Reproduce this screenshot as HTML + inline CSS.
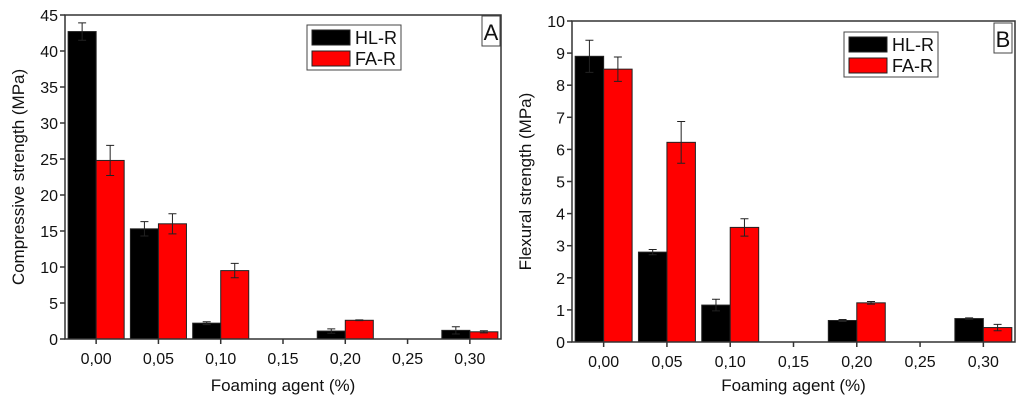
<!DOCTYPE html>
<html><head><meta charset="utf-8"><style>
body{margin:0;background:#fff;width:1024px;height:402px;overflow:hidden}
svg text{font-family:"Liberation Sans",sans-serif;fill:#111}
</style></head><body>
<svg id="s" width="1024" height="402" xmlns="http://www.w3.org/2000/svg"></svg>
<script>
const categories=["0,00","0,05","0,10","0,15","0,20","0,25","0,30"];
const hlA=[42.7,15.3,2.2,null,1.1,null,1.2];
const hlAErr=[1.2,1.0,0.2,null,0.3,null,0.5];
const faA=[24.8,16.0,9.5,null,2.6,null,1.0];
const faAErr=[2.1,1.4,1.0,null,0.05,null,0.15];
const ticksA=[0,5,10,15,20,25,30,35,40,45];
const hlB=[8.9,2.8,1.15,null,0.67,null,0.73];
const hlBErr=[0.5,0.08,0.18,null,0.03,null,0.02];
const faB=[8.5,6.22,3.57,null,1.22,null,0.45];
const faBErr=[0.38,0.65,0.27,null,0.04,null,0.1];
const ticksB=[0,1,2,3,4,5,6,7,8,9,10];
const NS="http://www.w3.org/2000/svg";
const svg=document.getElementById('s');
function mk(tag,attrs,parent,txt){const e=document.createElementNS(NS,tag);for(const k in attrs)e.setAttribute(k,attrs[k]);if(txt!==undefined)e.textContent=txt;(parent||svg).appendChild(e);return e;}
function panel(o){
  const g=mk('g',{});
  
  
  const xs=i=>o.L+(i+0.5)/7*(o.R-o.L);
  const ys=v=>o.B-v/o.max*(o.B-o.T);
  const bw=(o.R-o.L)/7*0.45;
  function bars(vals,errs,color,off,nm){
    vals.forEach((v,i)=>{if(v==null)return;
      const x=xs(i)+off*bw;
      const r=mk('rect',{x:x,y:ys(v),width:bw,height:o.B-ys(v),fill:color,stroke:'#222','stroke-width':1},g);
      
      
      const e=errs[i];const cx=x+bw/2;
      const eb=mk('path',{d:`M${cx},${ys(v+e)}V${ys(v-e)}M${cx-4},${ys(v+e)}H${cx+4}M${cx-4},${ys(v-e)}H${cx+4}`,stroke:'#222','stroke-width':1,fill:'none'},g);
      
      
    });
  }
  bars(o.hl,o.hlE,'#000',-1,'hl-r');
  bars(o.fa,o.faE,'#f00',0,'fa-r');
  const fr=mk('rect',{x:o.L,y:o.T,width:o.R-o.L,height:o.B-o.T,fill:'none',stroke:'#333','stroke-width':1.5},g);
  
  
  o.ticks.forEach(t=>{const y=ys(t);
    mk('line',{x1:o.L-5,x2:o.L,y1:y,y2:y,stroke:'#333','stroke-width':1.5},g);
    const tl=mk('text',{x:o.L-7,y:y+6,'text-anchor':'end','font-size':16},g,String(t));
    
    
  });
  categories.forEach((c,i)=>{const x=xs(i);
    mk('line',{x1:x,x2:x,y1:o.B,y2:o.B+5,stroke:'#333','stroke-width':1.5},g);
    const tl=mk('text',{x:x,y:o.B+25,'text-anchor':'middle','font-size':16},g,c);
    
    
  });
  const xt=mk('text',{x:(o.L+o.R)/2,y:391,'text-anchor':'middle','font-size':17},g,'Foaming agent (%)');
  
  
  const yt=mk('text',{x:0,y:0,transform:`translate(${o.ytx},${(o.T+o.B)/2}) rotate(-90)`,'text-anchor':'middle','font-size':17},g,o.ytitle);
  
  
  const lg=mk('g',{},g);
  
  
  mk('rect',{x:o.lx,y:o.ly,width:94,height:45,fill:'#fff',stroke:'#444','stroke-width':1},lg);
  mk('rect',{x:o.lx+5,y:o.ly+5,width:38,height:15,fill:'#000',stroke:'#222'},lg);
  mk('rect',{x:o.lx+5,y:o.ly+26,width:38,height:15,fill:'#f00',stroke:'#222'},lg);
  mk('text',{x:o.lx+48,y:o.ly+19,'font-size':18},lg,'HL-R');
  mk('text',{x:o.lx+48,y:o.ly+40,'font-size':18},lg,'FA-R');
  const pl=mk('g',{},g);
  
  
  mk('rect',{x:o.px,y:o.py,width:18,height:30,fill:'#fff',stroke:'#444'},pl);
  mk('text',{x:o.px+9,y:o.py+24,'text-anchor':'middle','font-size':22},pl,o.label);
}
panel({name:'panel-a',L:65,R:501,T:15,B:339,max:45,ticks:ticksA,hl:hlA,hlE:hlAErr,fa:faA,faE:faAErr,ytitle:'Compressive strength (MPa)',ytx:24,lx:307,ly:25,px:482,py:16,label:'A'});
panel({name:'panel-b',L:572,R:1015,T:21,B:342,max:10,ticks:ticksB,hl:hlB,hlE:hlBErr,fa:faB,faE:faBErr,ytitle:'Flexural strength (MPa)',ytx:531,lx:844,ly:32,px:994,py:23,label:'B'});
</script>
</body></html>
